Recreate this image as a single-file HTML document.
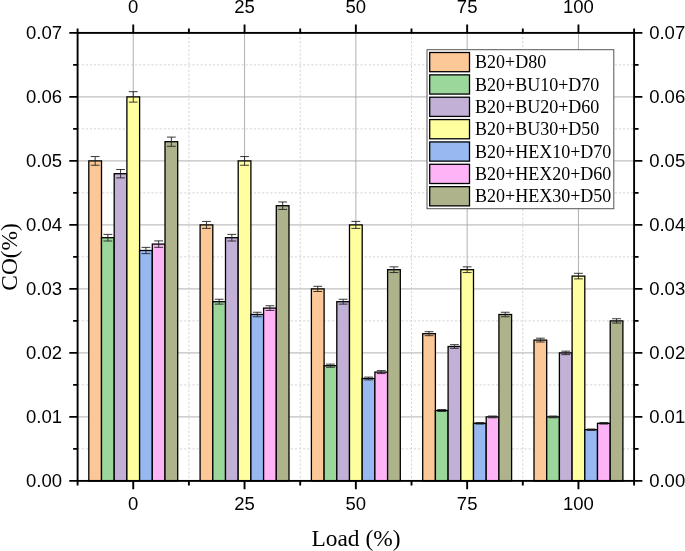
<!DOCTYPE html>
<html><head><meta charset="utf-8"><title>CO vs Load</title>
<style>
html,body{margin:0;padding:0;background:#fff}
svg{display:block}
.a{font-family:"Liberation Sans",Arial,sans-serif;font-size:18.5px;fill:#000}
.t{font-family:"Liberation Serif","Times New Roman",serif;font-size:18px;fill:#000}
.b{font-family:"Liberation Serif","Times New Roman",serif;font-size:23.4px;fill:#000}
</style></head><body>
<svg width="685" height="551" viewBox="0 0 685 551">
<rect width="685" height="551" fill="#fff"/>
<line x1="77.6" x2="634.1" y1="448.90" y2="448.90" stroke="#d4d4d4" stroke-width="1" stroke-dasharray="2.2,1.9"/>
<line x1="77.6" x2="634.1" y1="384.90" y2="384.90" stroke="#d4d4d4" stroke-width="1" stroke-dasharray="2.2,1.9"/>
<line x1="77.6" x2="634.1" y1="320.90" y2="320.90" stroke="#d4d4d4" stroke-width="1" stroke-dasharray="2.2,1.9"/>
<line x1="77.6" x2="634.1" y1="256.90" y2="256.90" stroke="#d4d4d4" stroke-width="1" stroke-dasharray="2.2,1.9"/>
<line x1="77.6" x2="634.1" y1="192.90" y2="192.90" stroke="#d4d4d4" stroke-width="1" stroke-dasharray="2.2,1.9"/>
<line x1="77.6" x2="634.1" y1="128.90" y2="128.90" stroke="#d4d4d4" stroke-width="1" stroke-dasharray="2.2,1.9"/>
<line x1="77.6" x2="634.1" y1="64.90" y2="64.90" stroke="#d4d4d4" stroke-width="1" stroke-dasharray="2.2,1.9"/>
<line x1="188.90" x2="188.90" y1="32.9" y2="480.9" stroke="#d4d4d4" stroke-width="1" stroke-dasharray="2.2,1.9"/>
<line x1="300.20" x2="300.20" y1="32.9" y2="480.9" stroke="#d4d4d4" stroke-width="1" stroke-dasharray="2.2,1.9"/>
<line x1="411.50" x2="411.50" y1="32.9" y2="480.9" stroke="#d4d4d4" stroke-width="1" stroke-dasharray="2.2,1.9"/>
<line x1="522.80" x2="522.80" y1="32.9" y2="480.9" stroke="#d4d4d4" stroke-width="1" stroke-dasharray="2.2,1.9"/>
<line x1="77.6" x2="634.1" y1="416.90" y2="416.90" stroke="#c0c0c0" stroke-width="1.3"/>
<line x1="77.6" x2="634.1" y1="352.90" y2="352.90" stroke="#c0c0c0" stroke-width="1.3"/>
<line x1="77.6" x2="634.1" y1="288.90" y2="288.90" stroke="#c0c0c0" stroke-width="1.3"/>
<line x1="77.6" x2="634.1" y1="224.90" y2="224.90" stroke="#c0c0c0" stroke-width="1.3"/>
<line x1="77.6" x2="634.1" y1="160.90" y2="160.90" stroke="#c0c0c0" stroke-width="1.3"/>
<line x1="77.6" x2="634.1" y1="96.90" y2="96.90" stroke="#c0c0c0" stroke-width="1.3"/>
<line x1="133.25" x2="133.25" y1="32.9" y2="480.9" stroke="#a8a8a8" stroke-width="0.9"/>
<line x1="244.55" x2="244.55" y1="32.9" y2="480.9" stroke="#a8a8a8" stroke-width="0.9"/>
<line x1="355.85" x2="355.85" y1="32.9" y2="480.9" stroke="#a8a8a8" stroke-width="0.9"/>
<line x1="467.15" x2="467.15" y1="32.9" y2="480.9" stroke="#a8a8a8" stroke-width="0.9"/>
<line x1="578.45" x2="578.45" y1="32.9" y2="480.9" stroke="#a8a8a8" stroke-width="0.9"/>
<rect x="88.80" y="160.90" width="12.7" height="320.00" fill="#FDC897" stroke="#000" stroke-width="1.3"/>
<rect x="101.50" y="237.70" width="12.7" height="243.20" fill="#9BD79B" stroke="#000" stroke-width="1.3"/>
<rect x="114.20" y="173.70" width="12.7" height="307.20" fill="#C2B0D6" stroke="#000" stroke-width="1.3"/>
<rect x="126.90" y="96.90" width="12.7" height="384.00" fill="#FFFF9F" stroke="#000" stroke-width="1.3"/>
<rect x="139.60" y="250.50" width="12.7" height="230.40" fill="#97B8F0" stroke="#000" stroke-width="1.3"/>
<rect x="152.30" y="244.10" width="12.7" height="236.80" fill="#FFB3F7" stroke="#000" stroke-width="1.3"/>
<rect x="165.00" y="141.70" width="12.7" height="339.20" fill="#AEB38C" stroke="#000" stroke-width="1.3"/>
<path d="M95.15 156.55V165.25M90.75 156.55h8.8M90.75 165.25h8.8" stroke="#222" stroke-width="0.9" fill="none"/>
<path d="M107.85 234.39V241.01M103.45 234.39h8.8M103.45 241.01h8.8" stroke="#222" stroke-width="0.9" fill="none"/>
<path d="M120.55 169.52V177.88M116.15 169.52h8.8M116.15 177.88h8.8" stroke="#222" stroke-width="0.9" fill="none"/>
<path d="M133.25 91.68V102.12M128.85 91.68h8.8M128.85 102.12h8.8" stroke="#222" stroke-width="0.9" fill="none"/>
<path d="M145.95 247.37V253.63M141.55 247.37h8.8M141.55 253.63h8.8" stroke="#222" stroke-width="0.9" fill="none"/>
<path d="M158.65 240.88V247.32M154.25 240.88h8.8M154.25 247.32h8.8" stroke="#222" stroke-width="0.9" fill="none"/>
<path d="M171.35 137.09V146.31M166.95 137.09h8.8M166.95 146.31h8.8" stroke="#222" stroke-width="0.9" fill="none"/>
<rect x="200.10" y="224.90" width="12.7" height="256.00" fill="#FDC897" stroke="#000" stroke-width="1.3"/>
<rect x="212.80" y="301.70" width="12.7" height="179.20" fill="#9BD79B" stroke="#000" stroke-width="1.3"/>
<rect x="225.50" y="237.70" width="12.7" height="243.20" fill="#C2B0D6" stroke="#000" stroke-width="1.3"/>
<rect x="238.20" y="160.90" width="12.7" height="320.00" fill="#FFFF9F" stroke="#000" stroke-width="1.3"/>
<rect x="250.90" y="314.50" width="12.7" height="166.40" fill="#97B8F0" stroke="#000" stroke-width="1.3"/>
<rect x="263.60" y="308.10" width="12.7" height="172.80" fill="#FFB3F7" stroke="#000" stroke-width="1.3"/>
<rect x="276.30" y="205.70" width="12.7" height="275.20" fill="#AEB38C" stroke="#000" stroke-width="1.3"/>
<path d="M206.45 221.42V228.38M202.05 221.42h8.8M202.05 228.38h8.8" stroke="#222" stroke-width="0.9" fill="none"/>
<path d="M219.15 299.26V304.14M214.75 299.26h8.8M214.75 304.14h8.8" stroke="#222" stroke-width="0.9" fill="none"/>
<path d="M231.85 234.39V241.01M227.45 234.39h8.8M227.45 241.01h8.8" stroke="#222" stroke-width="0.9" fill="none"/>
<path d="M244.55 156.55V165.25M240.15 156.55h8.8M240.15 165.25h8.8" stroke="#222" stroke-width="0.9" fill="none"/>
<path d="M257.25 312.24V316.76M252.85 312.24h8.8M252.85 316.76h8.8" stroke="#222" stroke-width="0.9" fill="none"/>
<path d="M269.95 305.75V310.45M265.55 305.75h8.8M265.55 310.45h8.8" stroke="#222" stroke-width="0.9" fill="none"/>
<path d="M282.65 201.96V209.44M278.25 201.96h8.8M278.25 209.44h8.8" stroke="#222" stroke-width="0.9" fill="none"/>
<rect x="311.40" y="288.90" width="12.7" height="192.00" fill="#FDC897" stroke="#000" stroke-width="1.3"/>
<rect x="324.10" y="365.70" width="12.7" height="115.20" fill="#9BD79B" stroke="#000" stroke-width="1.3"/>
<rect x="336.80" y="301.70" width="12.7" height="179.20" fill="#C2B0D6" stroke="#000" stroke-width="1.3"/>
<rect x="349.50" y="224.90" width="12.7" height="256.00" fill="#FFFF9F" stroke="#000" stroke-width="1.3"/>
<rect x="362.20" y="378.50" width="12.7" height="102.40" fill="#97B8F0" stroke="#000" stroke-width="1.3"/>
<rect x="374.90" y="372.10" width="12.7" height="108.80" fill="#FFB3F7" stroke="#000" stroke-width="1.3"/>
<rect x="387.60" y="269.70" width="12.7" height="211.20" fill="#AEB38C" stroke="#000" stroke-width="1.3"/>
<path d="M317.75 286.29V291.51M313.35 286.29h8.8M313.35 291.51h8.8" stroke="#222" stroke-width="0.9" fill="none"/>
<path d="M330.45 364.13V367.27M326.05 364.13h8.8M326.05 367.27h8.8" stroke="#222" stroke-width="0.9" fill="none"/>
<path d="M343.15 299.26V304.14M338.75 299.26h8.8M338.75 304.14h8.8" stroke="#222" stroke-width="0.9" fill="none"/>
<path d="M355.85 221.42V228.38M351.45 221.42h8.8M351.45 228.38h8.8" stroke="#222" stroke-width="0.9" fill="none"/>
<path d="M368.55 377.11V379.89M364.15 377.11h8.8M364.15 379.89h8.8" stroke="#222" stroke-width="0.9" fill="none"/>
<path d="M381.25 370.62V373.58M376.85 370.62h8.8M376.85 373.58h8.8" stroke="#222" stroke-width="0.9" fill="none"/>
<path d="M393.95 266.83V272.57M389.55 266.83h8.8M389.55 272.57h8.8" stroke="#222" stroke-width="0.9" fill="none"/>
<rect x="422.70" y="333.70" width="12.7" height="147.20" fill="#FDC897" stroke="#000" stroke-width="1.3"/>
<rect x="435.40" y="410.50" width="12.7" height="70.40" fill="#9BD79B" stroke="#000" stroke-width="1.3"/>
<rect x="448.10" y="346.50" width="12.7" height="134.40" fill="#C2B0D6" stroke="#000" stroke-width="1.3"/>
<rect x="460.80" y="269.70" width="12.7" height="211.20" fill="#FFFF9F" stroke="#000" stroke-width="1.3"/>
<rect x="473.50" y="423.30" width="12.7" height="57.60" fill="#97B8F0" stroke="#000" stroke-width="1.3"/>
<rect x="486.20" y="416.90" width="12.7" height="64.00" fill="#FFB3F7" stroke="#000" stroke-width="1.3"/>
<rect x="498.90" y="314.50" width="12.7" height="166.40" fill="#AEB38C" stroke="#000" stroke-width="1.3"/>
<path d="M429.05 331.70V335.70M424.65 331.70h8.8M424.65 335.70h8.8" stroke="#222" stroke-width="0.9" fill="none"/>
<path d="M441.75 409.54V411.46M437.35 409.54h8.8M437.35 411.46h8.8" stroke="#222" stroke-width="0.9" fill="none"/>
<path d="M454.45 344.67V348.33M450.05 344.67h8.8M450.05 348.33h8.8" stroke="#222" stroke-width="0.9" fill="none"/>
<path d="M467.15 266.83V272.57M462.75 266.83h8.8M462.75 272.57h8.8" stroke="#222" stroke-width="0.9" fill="none"/>
<path d="M479.85 422.52V424.08M475.45 422.52h8.8M475.45 424.08h8.8" stroke="#222" stroke-width="0.9" fill="none"/>
<path d="M492.55 416.03V417.77M488.15 416.03h8.8M488.15 417.77h8.8" stroke="#222" stroke-width="0.9" fill="none"/>
<path d="M505.25 312.24V316.76M500.85 312.24h8.8M500.85 316.76h8.8" stroke="#222" stroke-width="0.9" fill="none"/>
<rect x="534.00" y="340.10" width="12.7" height="140.80" fill="#FDC897" stroke="#000" stroke-width="1.3"/>
<rect x="546.70" y="416.90" width="12.7" height="64.00" fill="#9BD79B" stroke="#000" stroke-width="1.3"/>
<rect x="559.40" y="352.90" width="12.7" height="128.00" fill="#C2B0D6" stroke="#000" stroke-width="1.3"/>
<rect x="572.10" y="276.10" width="12.7" height="204.80" fill="#FFFF9F" stroke="#000" stroke-width="1.3"/>
<rect x="584.80" y="429.70" width="12.7" height="51.20" fill="#97B8F0" stroke="#000" stroke-width="1.3"/>
<rect x="597.50" y="423.30" width="12.7" height="57.60" fill="#FFB3F7" stroke="#000" stroke-width="1.3"/>
<rect x="610.20" y="320.90" width="12.7" height="160.00" fill="#AEB38C" stroke="#000" stroke-width="1.3"/>
<path d="M540.35 338.19V342.01M535.95 338.19h8.8M535.95 342.01h8.8" stroke="#222" stroke-width="0.9" fill="none"/>
<path d="M553.05 416.03V417.77M548.65 416.03h8.8M548.65 417.77h8.8" stroke="#222" stroke-width="0.9" fill="none"/>
<path d="M565.75 351.16V354.64M561.35 351.16h8.8M561.35 354.64h8.8" stroke="#222" stroke-width="0.9" fill="none"/>
<path d="M578.45 273.31V278.89M574.05 273.31h8.8M574.05 278.89h8.8" stroke="#222" stroke-width="0.9" fill="none"/>
<path d="M591.15 429.00V430.40M586.75 429.00h8.8M586.75 430.40h8.8" stroke="#222" stroke-width="0.9" fill="none"/>
<path d="M603.85 422.52V424.08M599.45 422.52h8.8M599.45 424.08h8.8" stroke="#222" stroke-width="0.9" fill="none"/>
<path d="M616.55 318.72V323.08M612.15 318.72h8.8M612.15 323.08h8.8" stroke="#222" stroke-width="0.9" fill="none"/>
<rect x="77.6" y="32.9" width="556.5" height="448.0" fill="none" stroke="#000" stroke-width="1.9"/>
<path d="M69.3 480.90H77.6M634.1 480.90H642.4" stroke="#000" stroke-width="1.9"/>
<text x="62.1" y="486.60" text-anchor="end" class="a">0.00</text>
<text x="649.2" y="486.60" class="a">0.00</text>
<path d="M69.3 416.90H77.6M634.1 416.90H642.4" stroke="#000" stroke-width="1.9"/>
<text x="62.1" y="422.60" text-anchor="end" class="a">0.01</text>
<text x="649.2" y="422.60" class="a">0.01</text>
<path d="M69.3 352.90H77.6M634.1 352.90H642.4" stroke="#000" stroke-width="1.9"/>
<text x="62.1" y="358.60" text-anchor="end" class="a">0.02</text>
<text x="649.2" y="358.60" class="a">0.02</text>
<path d="M69.3 288.90H77.6M634.1 288.90H642.4" stroke="#000" stroke-width="1.9"/>
<text x="62.1" y="294.60" text-anchor="end" class="a">0.03</text>
<text x="649.2" y="294.60" class="a">0.03</text>
<path d="M69.3 224.90H77.6M634.1 224.90H642.4" stroke="#000" stroke-width="1.9"/>
<text x="62.1" y="230.60" text-anchor="end" class="a">0.04</text>
<text x="649.2" y="230.60" class="a">0.04</text>
<path d="M69.3 160.90H77.6M634.1 160.90H642.4" stroke="#000" stroke-width="1.9"/>
<text x="62.1" y="166.60" text-anchor="end" class="a">0.05</text>
<text x="649.2" y="166.60" class="a">0.05</text>
<path d="M69.3 96.90H77.6M634.1 96.90H642.4" stroke="#000" stroke-width="1.9"/>
<text x="62.1" y="102.60" text-anchor="end" class="a">0.06</text>
<text x="649.2" y="102.60" class="a">0.06</text>
<path d="M69.3 32.90H77.6M634.1 32.90H642.4" stroke="#000" stroke-width="1.9"/>
<text x="62.1" y="38.60" text-anchor="end" class="a">0.07</text>
<text x="649.2" y="38.60" class="a">0.07</text>
<path d="M73.1 448.90H77.6M634.1 448.90H638.6" stroke="#000" stroke-width="1.9"/>
<path d="M73.1 384.90H77.6M634.1 384.90H638.6" stroke="#000" stroke-width="1.9"/>
<path d="M73.1 320.90H77.6M634.1 320.90H638.6" stroke="#000" stroke-width="1.9"/>
<path d="M73.1 256.90H77.6M634.1 256.90H638.6" stroke="#000" stroke-width="1.9"/>
<path d="M73.1 192.90H77.6M634.1 192.90H638.6" stroke="#000" stroke-width="1.9"/>
<path d="M73.1 128.90H77.6M634.1 128.90H638.6" stroke="#000" stroke-width="1.9"/>
<path d="M73.1 64.90H77.6M634.1 64.90H638.6" stroke="#000" stroke-width="1.9"/>
<path d="M133.25 24.599999999999998V32.9M133.25 480.9V489.2" stroke="#000" stroke-width="1.9"/>
<text x="133.25" y="13.2" text-anchor="middle" class="a">0</text>
<text x="133.25" y="510.2" text-anchor="middle" class="a">0</text>
<path d="M244.55 24.599999999999998V32.9M244.55 480.9V489.2" stroke="#000" stroke-width="1.9"/>
<text x="244.55" y="13.2" text-anchor="middle" class="a">25</text>
<text x="244.55" y="510.2" text-anchor="middle" class="a">25</text>
<path d="M355.85 24.599999999999998V32.9M355.85 480.9V489.2" stroke="#000" stroke-width="1.9"/>
<text x="355.85" y="13.2" text-anchor="middle" class="a">50</text>
<text x="355.85" y="510.2" text-anchor="middle" class="a">50</text>
<path d="M467.15 24.599999999999998V32.9M467.15 480.9V489.2" stroke="#000" stroke-width="1.9"/>
<text x="467.15" y="13.2" text-anchor="middle" class="a">75</text>
<text x="467.15" y="510.2" text-anchor="middle" class="a">75</text>
<path d="M578.45 24.599999999999998V32.9M578.45 480.9V489.2" stroke="#000" stroke-width="1.9"/>
<text x="578.45" y="13.2" text-anchor="middle" class="a">100</text>
<text x="578.45" y="510.2" text-anchor="middle" class="a">100</text>
<path d="M77.60 28.4V32.9M77.60 480.9V485.4" stroke="#000" stroke-width="1.9"/>
<path d="M188.90 28.4V32.9M188.90 480.9V485.4" stroke="#000" stroke-width="1.9"/>
<path d="M300.20 28.4V32.9M300.20 480.9V485.4" stroke="#000" stroke-width="1.9"/>
<path d="M411.50 28.4V32.9M411.50 480.9V485.4" stroke="#000" stroke-width="1.9"/>
<path d="M522.80 28.4V32.9M522.80 480.9V485.4" stroke="#000" stroke-width="1.9"/>
<path d="M634.10 28.4V32.9M634.10 480.9V485.4" stroke="#000" stroke-width="1.9"/>
<rect x="427" y="49.7" width="186.8" height="159" fill="#fff" stroke="#555" stroke-width="1"/>
<rect x="429.7" y="52.50" width="39.8" height="19.2" fill="#FDC897" stroke="#000" stroke-width="1.3"/>
<text x="475.0" y="68.30" class="t">B20+D80</text>
<rect x="429.7" y="74.86" width="39.8" height="19.2" fill="#9BD79B" stroke="#000" stroke-width="1.3"/>
<text x="475.0" y="90.66" class="t">B20+BU10+D70</text>
<rect x="429.7" y="97.22" width="39.8" height="19.2" fill="#C2B0D6" stroke="#000" stroke-width="1.3"/>
<text x="475.0" y="113.02" class="t">B20+BU20+D60</text>
<rect x="429.7" y="119.58" width="39.8" height="19.2" fill="#FFFF9F" stroke="#000" stroke-width="1.3"/>
<text x="475.0" y="135.38" class="t">B20+BU30+D50</text>
<rect x="429.7" y="141.94" width="39.8" height="19.2" fill="#97B8F0" stroke="#000" stroke-width="1.3"/>
<text x="475.0" y="157.74" class="t">B20+HEX10+D70</text>
<rect x="429.7" y="164.30" width="39.8" height="19.2" fill="#FFB3F7" stroke="#000" stroke-width="1.3"/>
<text x="475.0" y="180.10" class="t">B20+HEX20+D60</text>
<rect x="429.7" y="186.66" width="39.8" height="19.2" fill="#AEB38C" stroke="#000" stroke-width="1.3"/>
<text x="475.0" y="202.46" class="t">B20+HEX30+D50</text>
<text x="356" y="546" text-anchor="middle" class="b">Load (%)</text>
<text transform="translate(16.6,256.9) rotate(-90)" text-anchor="middle" class="b">CO(%)</text>
</svg>
</body></html>
